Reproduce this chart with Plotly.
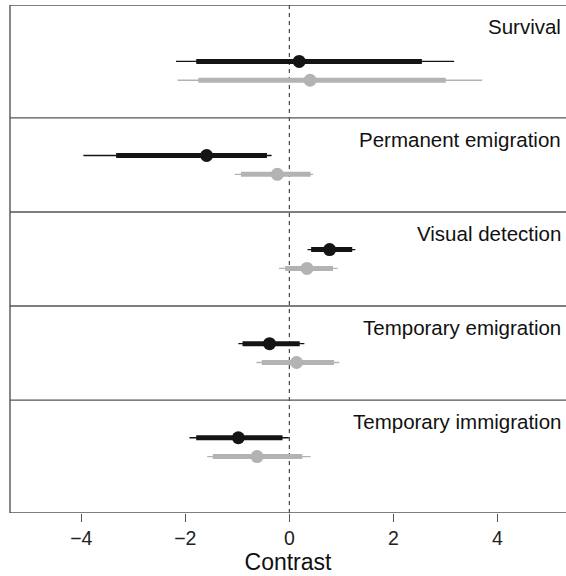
import plotly.graph_objects as go

panels = ["Survival", "Permanent emigration", "Visual detection",
          "Temporary emigration", "Temporary immigration"]

# black series: outer interval, inner interval, point estimate
black_lo_outer = [-2.18, -3.96, 0.35, -0.98, -1.92]
black_lo_inner = [-1.79, -3.33, 0.42, -0.90, -1.79]
black_mid = [0.19, -1.59, 0.775, -0.38, -0.98]
black_hi_inner = [2.55, -0.43, 1.21, 0.20, -0.13]
black_hi_outer = [3.17, -0.34, 1.27, 0.29, -0.01]

# grey series
grey_lo_outer = [-2.15, -1.05, -0.20, -0.63, -1.58]
grey_lo_inner = [-1.75, -0.93, -0.08, -0.53, -1.47]
grey_mid = [0.40, -0.23, 0.34, 0.14, -0.62]
grey_hi_inner = [3.01, 0.41, 0.84, 0.86, 0.25]
grey_hi_outer = [3.71, 0.46, 0.93, 0.96, 0.41]

x_ticks = [-4, -2, 0, 2, 4]
x_tick_labels = ["\u22124", "\u22122", "0", "2", "4"]

n = len(panels)
centers = [n - 0.3 - i for i in range(n)]   # panel centres (top to bottom)
y_top = n + 0.4
y_bot = 0.0
offset = 0.1

BLACK = "#141414"
GREY = "#b3b3b3"
FRAME = "#555555"


def seg(lo, hi, ys):
    xs, yy = [], []
    for a, b, y in zip(lo, hi, ys):
        xs += [a, b, None]
        yy += [y, y, None]
    return xs, yy


fig = go.Figure()
for lo_o, lo_i, mid, hi_i, hi_o, col, dy in [
    (black_lo_outer, black_lo_inner, black_mid, black_hi_inner, black_hi_outer, BLACK, offset),
    (grey_lo_outer, grey_lo_inner, grey_mid, grey_hi_inner, grey_hi_outer, GREY, -offset),
]:
    ys = [c + dy for c in centers]
    xs, yy = seg(lo_o, hi_o, ys)
    fig.add_trace(go.Scatter(x=xs, y=yy, mode="lines",
                             line=dict(color=col, width=1.3), hoverinfo="skip"))
    xs, yy = seg(lo_i, hi_i, ys)
    fig.add_trace(go.Scatter(x=xs, y=yy, mode="lines",
                             line=dict(color=col, width=5), hoverinfo="skip"))
    fig.add_trace(go.Scatter(x=mid, y=ys, mode="markers",
                             marker=dict(color=col, size=13, line=dict(width=0)),
                             hoverinfo="skip"))

shapes = []
# zero line
shapes.append(dict(type="line", xref="x", yref="y", x0=0, x1=0, y0=y_bot, y1=y_top,
                   line=dict(color="#222222", width=1, dash="4px,4px"), layer="below"))
# panel separators
for i in range(1, n):
    yb = centers[i] + 0.5
    shapes.append(dict(type="line", xref="paper", yref="y", x0=0, x1=1, y0=yb, y1=yb,
                       line=dict(color=FRAME, width=1.4)))
# frame: left, top, bottom
shapes.append(dict(type="line", xref="paper", yref="y", x0=0, x1=0, y0=y_bot, y1=y_top,
                   line=dict(color=FRAME, width=1.4)))
shapes.append(dict(type="line", xref="paper", yref="y", x0=0, x1=1, y0=y_top, y1=y_top,
                   line=dict(color=FRAME, width=1.4)))
shapes.append(dict(type="line", xref="paper", yref="y", x0=0, x1=1, y0=y_bot, y1=y_bot,
                   line=dict(color=FRAME, width=1.4)))

annotations = []
for i, name in enumerate(panels):
    top = y_top if i == 0 else centers[i] + 0.5
    annotations.append(dict(text=name, xref="paper", yref="y", x=0.994, y=top - 0.23,
                            xanchor="right", yanchor="middle", showarrow=False,
                            font=dict(size=20.5, color="#111111")))

fig.update_layout(
    width=566, height=576,
    margin=dict(l=10, r=0, t=5, b=63),
    paper_bgcolor="white", plot_bgcolor="white",
    showlegend=False,
    font=dict(family="Liberation Sans, Arial, sans-serif", color="#111111"),
    shapes=shapes, annotations=annotations,
    xaxis=dict(range=[-5.371, 5.321], tickvals=x_ticks, ticktext=x_tick_labels,
               ticks="outside", ticklen=8, tickwidth=1.2, tickcolor=FRAME,
               showgrid=False, zeroline=False, showline=False,
               tickfont=dict(size=19.5, color="#222222"),
               title=dict(text="Contrast", font=dict(size=23, color="#111111"), standoff=5)),
    yaxis=dict(range=[y_bot, y_top], visible=False, showgrid=False, zeroline=False),
)

fig.write_html("out.html")
